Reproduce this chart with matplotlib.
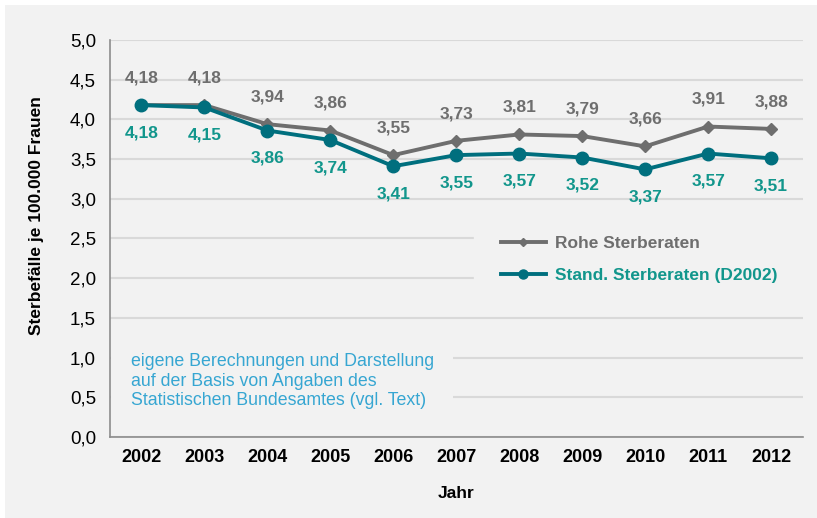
import matplotlib.pyplot as plt
from matplotlib.patches import Rectangle

plt.rcParams['font.family'] = ['Liberation Sans', 'DejaVu Sans']

years = ['2002', '2003', '2004', '2005', '2006', '2007', '2008', '2009', '2010', '2011', '2012']
rohe = [4.18, 4.18, 3.94, 3.86, 3.55, 3.73, 3.81, 3.79, 3.66, 3.91, 3.88]
stand = [4.18, 4.15, 3.86, 3.74, 3.41, 3.55, 3.57, 3.52, 3.37, 3.57, 3.51]
yticks = [0.0, 0.5, 1.0, 1.5, 2.0, 2.5, 3.0, 3.5, 4.0, 4.5, 5.0]

grey = '#6e6e6e'
teal = '#006f7e'
teal_txt = '#12968c'
blue_txt = '#36a6d2'
bg = '#f2f2f2'

fig = plt.figure(figsize=(8.17, 5.18), dpi=100)
fig.patch.set_facecolor('white')
fig.patches.append(Rectangle((5 / 817, 0), 1, 1 - 5 / 518, transform=fig.transFigure,
                             facecolor=bg, edgecolor='none', zorder=-10))
ax = fig.add_axes([0.1346, 0.1564, 0.8477, 0.7664])
ax.set_facecolor(bg)

x = list(range(len(years)))
ax.plot(x, rohe, color=grey, lw=2.8, marker='D', ms=6, label='Rohe Sterberaten', zorder=3)
ax.plot(x, stand, color=teal, lw=2.8, marker='o', ms=9, label='Stand. Sterberaten (D2002)', zorder=4)

for i in x:
    ax.annotate('{:.2f}'.format(rohe[i]).replace('.', ','), (i, rohe[i]), xytext=(0, 19.5),
                textcoords='offset points', ha='center', va='center',
                fontsize=12.5, fontweight='bold', color=grey)
    ax.annotate('{:.2f}'.format(stand[i]).replace('.', ','), (i, stand[i]), xytext=(0, -20),
                textcoords='offset points', ha='center', va='center',
                fontsize=12.5, fontweight='bold', color=teal_txt)

ax.set_xlim(-0.5, len(years) - 0.5)
ax.set_ylim(0, 5)
ax.set_xticks(x)
ax.set_xticklabels(years, fontsize=13, fontweight='bold')
ax.set_yticks(yticks)
ax.set_yticklabels(['{:.1f}'.format(v).replace('.', ',') for v in yticks], fontsize=13.5)
ax.tick_params(length=0, pad=10)
ax.tick_params(axis='x', pad=9)
ax.grid(axis='y', color='#d9d9d9', lw=1.5)
ax.set_axisbelow(True)
for s in ['top', 'right']:
    ax.spines[s].set_visible(False)
for s in ['left', 'bottom']:
    ax.spines[s].set_color('#8c8c8c')
    ax.spines[s].set_linewidth(1.2)

ax.set_ylabel('Sterbefälle je 100.000 Frauen', fontsize=12.5, fontweight='bold')
ax.yaxis.set_label_coords(-0.095, 0.557)
ax.set_xlabel('Jahr', fontsize=12.5, fontweight='bold', labelpad=14)

leg = ax.legend(loc='center left', bbox_to_anchor=(0.513, 0.447), frameon=True,
                facecolor=bg, edgecolor=bg, framealpha=1, fontsize=12.5, handlelength=2.6,
                handletextpad=0.5, labelspacing=0.95, borderpad=1.55, fancybox=False)
for t, c in zip(leg.get_texts(), [grey, teal_txt]):
    t.set_color(c)
    t.set_fontweight('bold')
for h, m in zip(leg.legend_handles, [4, 6.5]):
    h.set_markersize(m)

ax.text(0.03, 0.141, 'eigene Berechnungen und Darstellung\nauf der Basis von Angaben des\nStatistischen Bundesamtes (vgl. Text)',
        transform=ax.transAxes, ha='left', va='center', fontsize=12.8, color=blue_txt,
        linespacing=1.16, bbox=dict(facecolor=bg, edgecolor='none', pad=14))

fig.savefig('out.png', dpi=100, facecolor=fig.get_facecolor())
